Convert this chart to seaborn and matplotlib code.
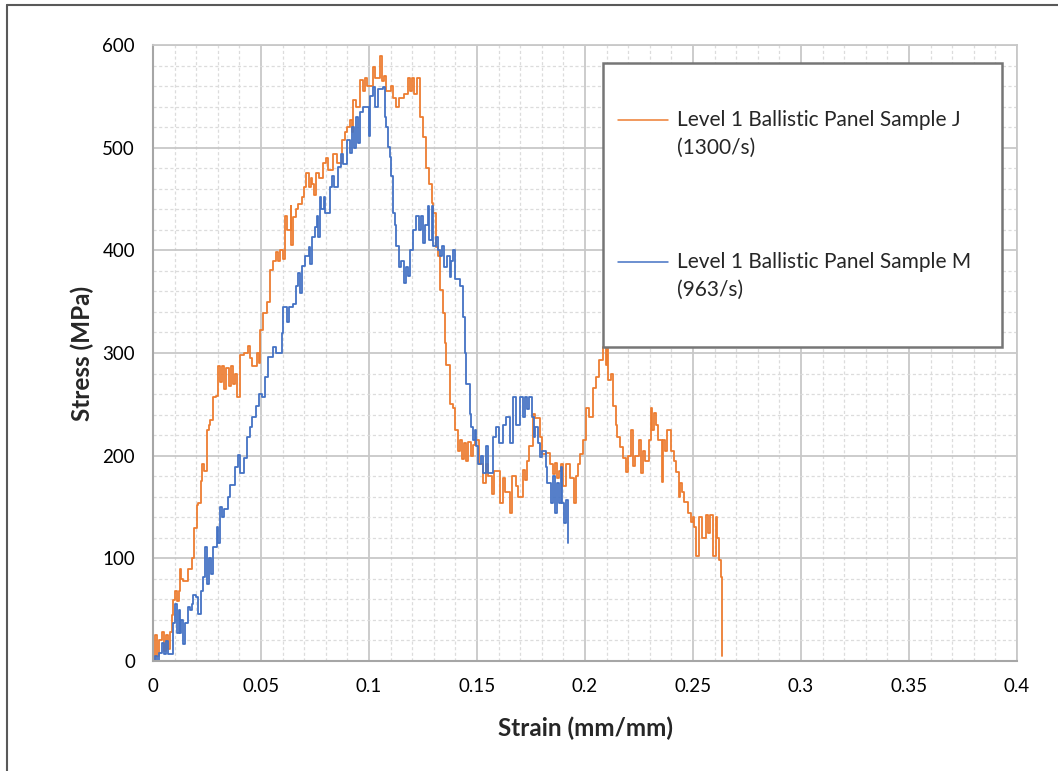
import numpy as np
import pandas as pd
import matplotlib
matplotlib.use("Agg")
import matplotlib.pyplot as plt
from matplotlib.lines import Line2D
from matplotlib.patches import Rectangle
from matplotlib.ticker import MultipleLocator
import seaborn as sns

# ---------------- data ----------------
J_strain = [0.000, 0.001, 0.002, 0.003, 0.004, 0.005, 0.006, 0.007, 0.008, 0.009,
            0.0094, 0.010, 0.011, 0.012, 0.0125, 0.013, 0.014, 0.016, 0.0179, 0.019,
            0.0202, 0.021, 0.022, 0.0228, 0.0235, 0.0248, 0.025, 0.026, 0.0264, 0.0279,
            0.029, 0.0302, 0.031, 0.032, 0.033, 0.034, 0.035, 0.036, 0.037, 0.038,
            0.0389, 0.0402, 0.042, 0.044, 0.045, 0.046, 0.048, 0.049, 0.0495, 0.051,
            0.0526, 0.0541, 0.0556, 0.057, 0.058, 0.059, 0.060, 0.061, 0.062, 0.0637,
            0.064, 0.065, 0.066, 0.067, 0.0688, 0.070, 0.071, 0.072, 0.073, 0.0735,
            0.0744, 0.0755, 0.077, 0.0788, 0.080, 0.081, 0.0834, 0.085, 0.0873, 0.089,
            0.090, 0.091, 0.092, 0.0926, 0.094, 0.0957, 0.097, 0.098, 0.099, 0.1019,
            0.103, 0.105, 0.106, 0.107, 0.108, 0.110, 0.111, 0.1127, 0.114, 0.116,
            0.118, 0.119, 0.120, 0.121, 0.122, 0.1227, 0.1235, 0.125, 0.1265, 0.128,
            0.129, 0.1296, 0.1309, 0.132, 0.1327, 0.1342, 0.135, 0.1358, 0.1373, 0.139,
            0.1397, 0.141, 0.142, 0.143, 0.144, 0.145, 0.146, 0.147, 0.148, 0.149,
            0.151, 0.1527, 0.154, 0.155, 0.157, 0.158, 0.1605, 0.162, 0.163, 0.1651,
            0.166, 0.168, 0.169, 0.1712, 0.172, 0.173, 0.1743, 0.1759, 0.177, 0.179,
            0.180, 0.182, 0.1836, 0.185, 0.186, 0.187, 0.188, 0.189, 0.190, 0.191,
            0.193, 0.1951, 0.196, 0.1967, 0.1975, 0.199, 0.2005, 0.202, 0.2036, 0.2052,
            0.2067, 0.2082, 0.209, 0.2095, 0.210, 0.2106, 0.212, 0.2129, 0.2144, 0.215,
            0.216, 0.2175, 0.219, 0.220, 0.2214, 0.222, 0.223, 0.2249, 0.226, 0.227,
            0.228, 0.2298, 0.2306, 0.231, 0.232, 0.233, 0.234, 0.2357, 0.236, 0.237,
            0.238, 0.2398, 0.241, 0.2421, 0.2437, 0.244, 0.245, 0.246, 0.2475, 0.249,
            0.250, 0.2506, 0.2514, 0.253, 0.254, 0.256, 0.257, 0.258, 0.2591, 0.2607,
            0.261, 0.2622, 0.263, 0.2633, 0.2636]
J_stress = [0, 25, 5, 20, 28, 10, 25, 12, 28, 45,
            59, 68, 58, 68, 90, 80, 78, 90, 100, 130,
            152, 154, 175, 192, 185, 210, 225, 230, 235, 257,
            258, 287, 272, 287, 265, 285, 268, 287, 270, 280,
            257, 298, 300, 307, 295, 287, 300, 290, 322, 339,
            350, 381, 390, 398, 390, 400, 392, 433, 420, 443,
            405, 432, 440, 445, 452, 462, 475, 462, 470, 465,
            454, 475, 470, 485, 490, 478, 494, 485, 507, 515,
            520, 527, 515, 546, 540, 566, 555, 568, 560, 579,
            568, 589, 565, 570, 555, 560, 548, 540, 548, 552,
            568, 555, 568, 552, 568, 568, 530, 510, 480, 465,
            446, 436, 403, 394, 361, 339, 310, 288, 250, 246,
            225, 205, 215, 197, 212, 195, 213, 200, 210, 215,
            192, 173, 192, 180, 163, 185, 154, 178, 165, 144,
            180, 170, 160, 186, 176, 195, 209, 241, 237, 218,
            202, 203, 192, 182, 193, 178, 185, 192, 170, 192,
            178, 154, 180, 192, 202, 215, 246, 238, 266, 277,
            293, 306, 312, 288, 306, 274, 280, 248, 230, 218,
            208, 198, 184, 200, 225, 190, 200, 215, 183, 205,
            195, 215, 246, 225, 242, 230, 215, 174, 215, 205,
            225, 205, 195, 184, 160, 173, 165, 155, 144, 135,
            140, 131, 102, 140, 120, 142, 125, 142, 102, 140,
            120, 98, 82, 40, 5]

M_strain = [0.000, 0.001, 0.002, 0.003, 0.004, 0.005, 0.006, 0.007, 0.008, 0.0094,
            0.010, 0.011, 0.012, 0.0125, 0.013, 0.014, 0.015, 0.016, 0.017, 0.018,
            0.0187, 0.020, 0.021, 0.022, 0.0233, 0.024, 0.025, 0.026, 0.027, 0.028,
            0.0294, 0.030, 0.031, 0.032, 0.033, 0.0348, 0.0358, 0.0379, 0.0392, 0.0404,
            0.042, 0.0433, 0.0448, 0.046, 0.0478, 0.049, 0.0503, 0.0518, 0.0533, 0.0556,
            0.057, 0.0595, 0.0603, 0.062, 0.063, 0.0649, 0.066, 0.0672, 0.068, 0.069,
            0.0703, 0.072, 0.0725, 0.0734, 0.075, 0.0757, 0.0765, 0.0775, 0.078, 0.079,
            0.0796, 0.0819, 0.083, 0.084, 0.0857, 0.087, 0.088, 0.0896, 0.091, 0.092,
            0.093, 0.094, 0.095, 0.096, 0.0973, 0.0999, 0.1003, 0.1019, 0.103, 0.104,
            0.1065, 0.1073, 0.1081, 0.1088, 0.1096, 0.1104, 0.1111, 0.112, 0.1127, 0.114,
            0.115, 0.1162, 0.117, 0.118, 0.1188, 0.1204, 0.1219, 0.123, 0.124, 0.125,
            0.126, 0.1273, 0.128, 0.129, 0.1296, 0.131, 0.1319, 0.133, 0.134, 0.1349,
            0.136, 0.1373, 0.138, 0.139, 0.140, 0.142, 0.1435, 0.1443, 0.1451, 0.1466,
            0.1473, 0.1481, 0.149, 0.1497, 0.1505, 0.152, 0.1527, 0.1543, 0.155, 0.1574,
            0.1589, 0.160, 0.162, 0.1635, 0.1651, 0.1666, 0.168, 0.170, 0.1712, 0.172,
            0.173, 0.1743, 0.1755, 0.1766, 0.177, 0.1782, 0.179, 0.180, 0.182, 0.1825,
            0.1844, 0.185, 0.1859, 0.187, 0.188, 0.189, 0.1895, 0.1905, 0.191, 0.1921]
M_stress = [0, 5, 0, 8, 18, 7, 19, 7, 7, 37,
            56, 27, 50, 27, 40, 17, 37, 53, 50, 56,
            64, 62, 46, 68, 82, 111, 75, 100, 85, 111,
            131, 115, 150, 140, 148, 160, 171, 189, 201, 183,
            198, 218, 228, 238, 248, 260, 257, 277, 296, 306,
            300, 319, 345, 330, 345, 348, 365, 378, 358, 385,
            394, 403, 387, 413, 423, 433, 413, 452, 440, 452,
            436, 462, 472, 462, 481, 494, 484, 507, 495, 520,
            500, 530, 505, 535, 540, 511, 550, 559, 540, 557,
            559, 530, 520, 501, 491, 472, 436, 425, 404, 384,
            390, 368, 384, 375, 400, 420, 433, 420, 433, 407,
            425, 443, 410, 443, 404, 413, 400, 394, 404, 384,
            394, 374, 390, 400, 372, 365, 335, 300, 270, 241,
            228, 215, 225, 209, 192, 200, 183, 209, 183, 218,
            228, 212, 230, 238, 212, 257, 230, 257, 238, 257,
            245, 257, 238, 218, 228, 212, 199, 205, 189, 173,
            154, 180, 144, 173, 154, 189, 154, 134, 157, 115]

series_labels = ["Level 1 Ballistic Panel Sample J\n(1300/s)",
                 "Level 1 Ballistic Panel Sample M\n(963/s)"]
series_colors = ["#ED7D31", "#4472C4"]
x_ticks = [0, 0.05, 0.1, 0.15, 0.2, 0.25, 0.3, 0.35, 0.4]
x_tick_labels = ["0", "0.05", "0.1", "0.15", "0.2", "0.25", "0.3", "0.35", "0.4"]
y_ticks = [0, 100, 200, 300, 400, 500, 600]

# ---------------- figure ----------------
sns.set_theme(style="white")
plt.rcParams["font.family"] = ["Lato", "DejaVu Sans"]

W, H = 1058, 771
fig = plt.figure(figsize=(W / 100, H / 100), dpi=100)
ax = fig.add_axes([153 / W, 1 - 661 / H, (1017 - 153) / W, (661 - 45) / H])

dfJ = pd.DataFrame({"strain": J_strain, "stress": J_stress})
dfM = pd.DataFrame({"strain": M_strain, "stress": M_stress})
sns.lineplot(data=dfJ, x="strain", y="stress", sort=False, estimator=None,
             color=series_colors[0], linewidth=1.3, drawstyle="steps-post",
             ax=ax, label=series_labels[0], legend=False)
sns.lineplot(data=dfM, x="strain", y="stress", sort=False, estimator=None,
             color=series_colors[1], linewidth=1.3, drawstyle="steps-post",
             ax=ax, label=series_labels[1], legend=False)

ax.set_xlim(0, 0.4)
ax.set_ylim(0, 600)
ax.set_xticks(x_ticks)
ax.set_xticklabels(x_tick_labels)
ax.set_yticks(y_ticks)
ax.xaxis.set_minor_locator(MultipleLocator(0.01))
ax.yaxis.set_minor_locator(MultipleLocator(20))
ax.grid(which="major", color="#C8C8C8", linewidth=1.3, zorder=0)
ax.grid(which="minor", color="#DCDCDC", linewidth=0.9, linestyle=(0, (2.5, 2)), zorder=0)
ax.set_axisbelow(True)
ax.tick_params(which="both", length=0, labelsize=13.5, colors="#000000")
ax.tick_params(axis="x", pad=12)
ax.tick_params(axis="y", pad=13)
for s in ["top", "right"]:
    ax.spines[s].set_color("#C8C8C8")
    ax.spines[s].set_linewidth(1.3)
for s in ["left", "bottom"]:
    ax.spines[s].set_color("#A6A6A6")
    ax.spines[s].set_linewidth(1.5)

ax.set_xlabel("Strain (mm/mm)", fontsize=17.5, fontweight="bold", labelpad=16)
ax.set_ylabel("Stress (MPa)", fontsize=17.5, fontweight="bold", labelpad=6)

# ---------------- legend box (Excel style) ----------------
lx0, ly0, lx1, ly1 = 603, 63, 1002, 347
fig.add_artist(Rectangle((lx0 / W, 1 - ly1 / H), (lx1 - lx0) / W, (ly1 - ly0) / H,
                         transform=fig.transFigure, facecolor="white",
                         edgecolor="#767676", linewidth=1.8, zorder=5))
entries = [(120, 148), (262, 290)]
for (y1, y2), lab, col in zip(entries, series_labels, series_colors):
    fig.add_artist(Line2D([618 / W, 668 / W], [1 - y1 / H, 1 - y1 / H],
                          transform=fig.transFigure, color=col, linewidth=1.1, zorder=6))
    first, second = lab.split("\n")
    fig.text(677 / W, 1 - y1 / H, first, fontsize=15, va="center", ha="left", zorder=7)
    fig.text(677 / W, 1 - y2 / H, second, fontsize=15, va="center", ha="left", zorder=7)

# ---------------- outer chart frame (left & top) ----------------
fig.add_artist(Line2D([7 / W, 7 / W], [0, 1 - 5 / H], transform=fig.transFigure,
                      color="#595959", linewidth=1.5))
fig.add_artist(Line2D([7 / W, 1], [1 - 5 / H, 1 - 5 / H], transform=fig.transFigure,
                      color="#595959", linewidth=1.5))

fig.savefig("out.png", dpi=100)
